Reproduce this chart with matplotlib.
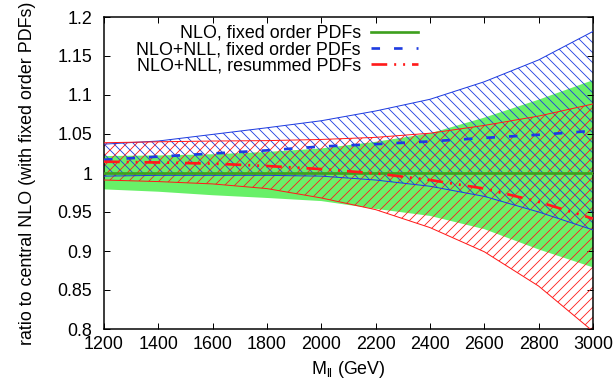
import matplotlib
matplotlib.use("Agg")
import matplotlib.pyplot as plt

plt.rcParams["font.family"] = ["Liberation Sans", "DejaVu Sans"]
plt.rcParams["mathtext.fontset"] = "custom"
plt.rcParams["mathtext.rm"] = "Liberation Sans"
plt.rcParams["hatch.linewidth"] = 0.5

# Invariant mass of the lepton pair (GeV)
mass = [1200, 1400, 1600, 1800, 2000, 2200, 2400, 2600, 2800, 3000]

# NLO with fixed-order PDFs: scale/PDF band (central value is 1 by construction)
nlo_lo = [0.979, 0.976, 0.9715, 0.968, 0.964, 0.954, 0.945, 0.928, 0.902, 0.879]
nlo_hi = [1.0217, 1.0225, 1.024, 1.027, 1.0315, 1.040, 1.0508, 1.071, 1.094, 1.119]
nlo_c = [1.0, 1.0, 1.0, 1.0, 1.0, 1.0, 1.0, 1.0, 1.0, 1.0]

# NLO+NLL with fixed-order PDFs
fo_lo = [0.996, 0.997, 0.997, 0.997, 0.996, 0.991, 0.983, 0.970, 0.950, 0.927]
fo_c = [1.017, 1.021, 1.025, 1.029, 1.034, 1.037, 1.0405, 1.045, 1.049, 1.054]
fo_hi = [1.037, 1.041, 1.0495, 1.058, 1.067, 1.0795, 1.0945, 1.117, 1.145, 1.1815]

# NLO+NLL with resummed PDFs
rs_lo = [0.991, 0.989, 0.986, 0.980, 0.968, 0.953, 0.930, 0.899, 0.855, 0.797]
rs_c = [1.0145, 1.0135, 1.012, 1.009, 1.005, 0.9995, 0.991, 0.980, 0.963, 0.9415]
rs_hi = [1.0388, 1.040, 1.041, 1.0415, 1.043, 1.0457, 1.051, 1.061, 1.073, 1.0885]

labels = ["NLO, fixed order PDFs",
          "NLO+NLL, fixed order PDFs",
          "NLO+NLL, resummed PDFs"]

GREEN_FILL = "#68f068"
GREEN = "#3ea01e"
BLUE = "#1e3ce0"
RED = "#ff1a1a"
FS = 10.7

fig = plt.figure(figsize=(615 / 120, 384 / 120), dpi=120)
ax = fig.add_axes([104 / 615, 1 - 329 / 384, 489 / 615, 312 / 384])

# bands
ax.fill_between(mass, nlo_lo, nlo_hi, facecolor=GREEN_FILL, edgecolor="none",
                linewidth=0, zorder=1)
ax.fill_between(mass, fo_lo, fo_hi, facecolor="none", edgecolor=BLUE,
                hatch="\\\\\\\\", linewidth=0, zorder=2)
ax.fill_between(mass, rs_lo, rs_hi, facecolor="none", edgecolor=RED,
                hatch="////", linewidth=0, zorder=2)

# band edges
for y in (fo_lo, fo_hi):
    ax.plot(mass, y, color=BLUE, lw=0.6, zorder=3)
for y in (rs_lo, rs_hi):
    ax.plot(mass, y, color=RED, lw=0.6, zorder=3)

# central values
l1, = ax.plot(mass, nlo_c, color=GREEN, lw=1.6, zorder=4, label=labels[0])
l2, = ax.plot(mass, fo_c, color=BLUE, lw=1.6, zorder=5, label=labels[1],
              linestyle=(0, (3.2, 5.25)))
l3, = ax.plot(mass, rs_c, color=RED, lw=1.6, zorder=5, label=labels[2],
              linestyle=(0, (5.9, 2.6, 0.75, 2.6, 0.75, 2.6)))

ax.set_xlim(1200, 3000)
ax.set_ylim(0.8, 1.2)
ax.set_xticks(range(1200, 3001, 200))
ax.set_yticks([0.8, 0.85, 0.9, 0.95, 1.0, 1.05, 1.1, 1.15, 1.2])
ax.set_yticklabels(["0.8", "0.85", "0.9", "0.95", "1", "1.05", "1.1", "1.15", "1.2"])
ax.tick_params(direction="in", length=3.6, width=0.6, top=True, right=True,
               labelsize=FS, pad=4)
ax.tick_params(axis="y", pad=7)
for s in ax.spines.values():
    s.set_linewidth(0.9)

ax.set_xlabel(r"M$_{\mathregular{ll}}$ (GeV)", fontsize=FS, labelpad=4)
ax.set_ylabel("ratio to central NLO (with fixed order PDFs)", fontsize=FS,
              labelpad=13)

leg = ax.legend(handles=[l1, l2, l3], loc="upper right",
                bbox_to_anchor=((418 - 104) / 489, (329 - 25) / 312),
                frameon=False, markerfirst=False, fontsize=FS,
                handlelength=2.65, handletextpad=0.55, labelspacing=-0.05,
                borderpad=0, borderaxespad=0)
for t in leg.get_texts():
    t.set_ha("right")

fig.savefig("out.png", dpi=120)
